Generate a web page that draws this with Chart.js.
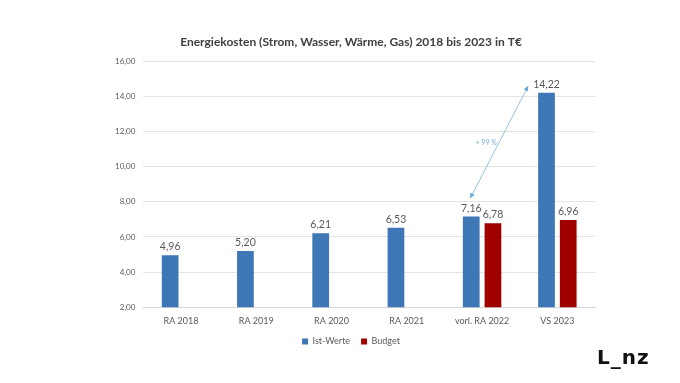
<!DOCTYPE html>
<html><head><meta charset="utf-8">
<script src="https://cdn.jsdelivr.net/npm/chart.js@4.4.1/dist/chart.umd.min.js"></script>
<style>
html,body{margin:0;padding:0;background:#fff;}
#wrap{position:relative;width:680px;height:383px;}
#logo{position:absolute;left:597px;top:345px;font:bold 20px "DejaVu Sans",sans-serif;color:#111;letter-spacing:1px;}
</style></head>
<body>
<div id="wrap"><canvas id="c" width="680" height="383"></canvas><div id="logo">L_nz</div></div>
<script>
const categories = ["RA 2018","RA 2019","RA 2020","RA 2021","vorl. RA 2022","VS 2023"];
const istWerte = [4.96, 5.20, 6.21, 6.53, 7.16, 14.22];
const budget = [null, null, null, null, 6.78, 6.96];
const yTicks = [2,4,6,8,10,12,14,16];
const arrowText = "+ 99 %";

const fmt = v => v.toFixed(2).replace('.', ',');
const FONT = 'Lato, "Open Sans", sans-serif';

const labelPlugin = {
  id: 'vals',
  afterDatasetsDraw(chart) {
    const ctx = chart.ctx;
    ctx.save();
    ctx.font = '10.5px ' + FONT;
    ctx.fillStyle = '#595959';
    ctx.textAlign = 'center';
    ctx.textBaseline = 'bottom';
    chart.data.datasets.forEach((ds, di) => {
      const meta = chart.getDatasetMeta(di);
      meta.data.forEach((bar, i) => {
        const v = ds.data[i];
        if (v == null) return;
        ctx.fillText(fmt(v), bar.x, bar.y - 3);
      });
    });
    // arrow
    const ys = chart.scales.y;
    const b4 = chart.getDatasetMeta(0).data[4];
    const b5 = chart.getDatasetMeta(0).data[5];
    const x1 = b4.x - 1, y1 = ys.getPixelForValue(8.2);
    const x2 = b5.x - b5.width / 2 - 10, y2 = ys.getPixelForValue(14.6);
    ctx.strokeStyle = '#7fb0d6';
    ctx.fillStyle = '#6fa6d2';
    ctx.lineWidth = 0.8;
    ctx.beginPath(); ctx.moveTo(x1, y1); ctx.lineTo(x2, y2); ctx.stroke();
    const head = (xa, ya, xb, yb) => {
      const ang = Math.atan2(yb - ya, xb - xa);
      const L = 5, W = 2.5;
      ctx.beginPath();
      ctx.moveTo(xb, yb);
      ctx.lineTo(xb - L*Math.cos(ang) + W*Math.sin(ang), yb - L*Math.sin(ang) - W*Math.cos(ang));
      ctx.lineTo(xb - L*Math.cos(ang) - W*Math.sin(ang), yb - L*Math.sin(ang) + W*Math.cos(ang));
      ctx.closePath(); ctx.fill();
    };
    head(x1, y1, x2, y2); head(x2, y2, x1, y1);
    ctx.font = '7px ' + FONT;
    ctx.fillStyle = '#7fb0d6';
    ctx.textAlign = 'center';
    ctx.textBaseline = 'middle';
    ctx.fillText(arrowText, (x1 + x2) / 2 - 13, (y1 + y2) / 2 + 1);
    ctx.restore();
  }
};

new Chart(document.getElementById('c'), {
  type: 'bar',
  data: {
    labels: categories,
    datasets: [
      {label: 'Ist-Werte', data: istWerte, backgroundColor: '#3d77b6', categoryPercentage: 0.577, barPercentage: 0.77},
      {label: 'Budget', data: budget, backgroundColor: '#a00000', categoryPercentage: 0.577, barPercentage: 0.77}
    ]
  },
  options: {
    responsive: false,
    animation: false,
    layout: {padding: {left: 107, right: 85, top: 35, bottom: 27}},
    plugins: {
      title: {display: true, text: 'Energiekosten (Strom, Wasser, Wärme, Gas) 2018 bis 2023 in T€',
        color: '#404040', font: {family: FONT, size: 12, weight: 'bold'}, padding: {top: 0, bottom: 12}},
      legend: {position: 'bottom', labels: {boxWidth: 6, boxHeight: 6, color: '#595959', font: {family: FONT, size: 9}, padding: 11}},
      tooltip: {enabled: false}
    },
    scales: {
      x: {grid: {display: false}, border: {color: '#d9d9d9'},
        ticks: {color: '#595959', font: {family: FONT, size: 9}, padding: 0}},
      y: {min: 2, max: 16, border: {display: false},
        afterBuildTicks: s => { s.ticks = yTicks.map(v => ({value: v})); },
        grid: {color: '#e3e3e3', drawTicks: false},
        ticks: {color: '#595959', font: {family: FONT, size: 8}, padding: 8, callback: v => fmt(v)}}
    }
  },
  plugins: [labelPlugin]
});
</script>
</body></html>
